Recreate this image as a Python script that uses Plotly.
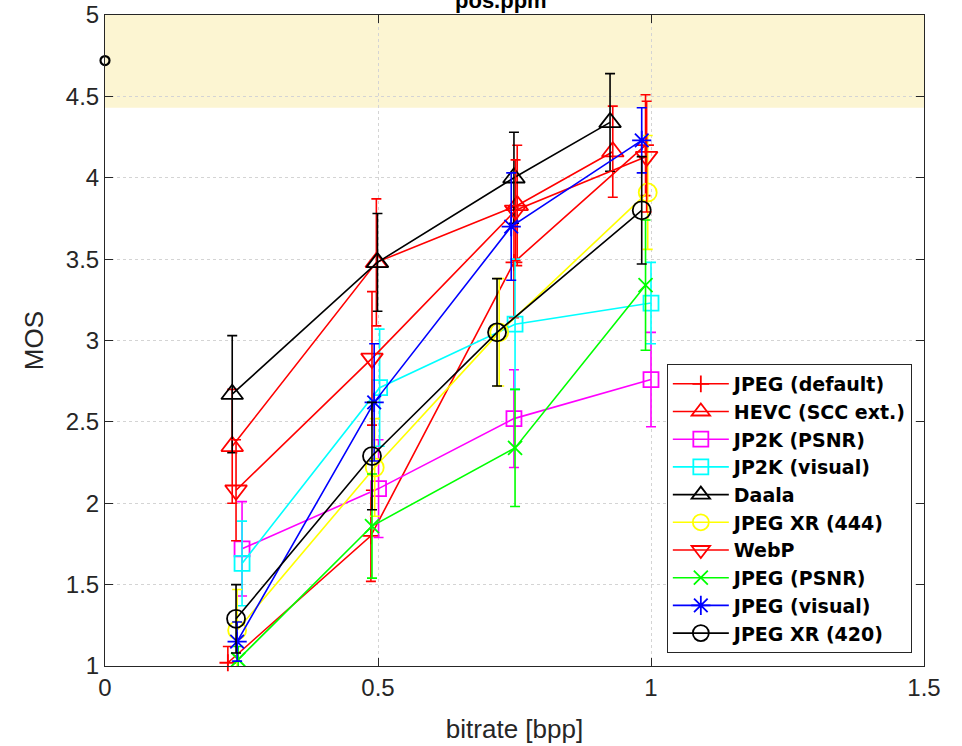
import plotly.graph_objects as go

names = ["JPEG (default)", "HEVC (SCC ext.)", "JP2K (PSNR)", "JP2K (visual)", "Daala",
         "JPEG XR (444)", "WebP", "JPEG (PSNR)", "JPEG (visual)", "JPEG XR (420)"]

x_jpeg_default = [0.225, 0.487, 0.749, 0.990]
y_jpeg_default = [1.02, 1.80, 3.48, 4.20]
e_jpeg_default = [0.10, 0.28, 0.34, 0.31]

x_hevc = [0.233, 0.497, 0.755, 0.930]
y_hevc = [2.35, 3.48, 3.83, 4.16]
e_hevc = [0.35, 0.39, 0.37, 0.28]

x_jp2k_psnr = [0.251, 0.501, 0.749, 1.000]
y_jp2k_psnr = [1.72, 2.09, 2.52, 2.76]
e_jp2k_psnr = [0.29, 0.30, 0.30, 0.29]

x_jp2k_visual = [0.251, 0.503, 0.751, 1.000]
y_jp2k_visual = [1.63, 2.71, 3.10, 3.23]
e_jp2k_visual = [0.26, 0.36, 0.40, 0.25]

x_daala = [0.233, 0.499, 0.749, 0.925]
y_daala = [2.67, 3.48, 4.00, 4.34]
e_daala = [0.36, 0.30, 0.28, 0.30]

x_xr444 = [0.242, 0.494, 0.722, 0.994]
y_xr444 = [1.22, 2.22, 3.05, 3.91]
e_xr444 = [0.25, 0.30, 0.33, 0.35]

x_webp = [0.240, 0.489, 0.752, 0.992]
y_webp = [2.08, 2.89, 3.80, 4.13]
e_webp = [0.31, 0.41, 0.31, 0.34]

x_jpeg_psnr = [0.244, 0.489, 0.751, 0.990]
y_jpeg_psnr = [1.04, 1.86, 2.34, 3.34]
e_jpeg_psnr = [0.08, 0.32, 0.36, 0.40]

x_jpeg_visual = [0.242, 0.493, 0.744, 0.983]
y_jpeg_visual = [1.15, 2.62, 3.70, 4.23]
e_jpeg_visual = [0.12, 0.36, 0.33, 0.20]

x_xr420 = [0.240, 0.489, 0.718, 0.983]
y_xr420 = [1.29, 2.29, 3.05, 3.80]
e_xr420 = [0.21, 0.33, 0.33, 0.33]

ref_x = [0.0]
ref_y = [4.72]
band_range = [4.43, 5.0]

xs = [x_jpeg_default, x_hevc, x_jp2k_psnr, x_jp2k_visual, x_daala, x_xr444, x_webp,
      x_jpeg_psnr, x_jpeg_visual, x_xr420]
ys = [y_jpeg_default, y_hevc, y_jp2k_psnr, y_jp2k_visual, y_daala, y_xr444, y_webp,
      y_jpeg_psnr, y_jpeg_visual, y_xr420]
es = [e_jpeg_default, e_hevc, e_jp2k_psnr, e_jp2k_visual, e_daala, e_xr444, e_webp,
      e_jpeg_psnr, e_jpeg_visual, e_xr420]

colors = ["#FF0000", "#FF0000", "#FF00FF", "#00FFFF", "#000000",
          "#FFFF00", "#FF0000", "#00FF00", "#0000FF", "#000000"]
symbols = ["cross-thin", "triangle-up-open", "square-open", "square-open", "triangle-up-open",
           "circle-open", "triangle-down-open", "x-thin", "asterisk", "circle-open"]
sizes = [12, 19, 15, 15, 19, 18, 19, 14, 16, 18]

FONT = "Liberation Sans, Arial, Helvetica"

fig = go.Figure()
for n, x, y, e, c, s, sz in zip(names, xs, ys, es, colors, symbols, sizes):
    fig.add_trace(go.Scatter(
        x=x, y=y, name=n, mode="lines+markers",
        line=dict(color=c, width=1.6),
        marker=dict(symbol=s, size=sz, color=c, line=dict(color=c, width=1.8)),
        error_y=dict(type="data", array=e, symmetric=True, color=c, thickness=1.6, width=5),
        cliponaxis=False,
    ))

fig.add_trace(go.Scatter(
    x=ref_x, y=ref_y, mode="markers", showlegend=False,
    marker=dict(symbol="circle-open", size=9, color="black", line=dict(color="black", width=2.2)),
    cliponaxis=False,
))

fig.add_shape(type="rect", xref="paper", yref="y", x0=0, x1=1,
              y0=band_range[0], y1=band_range[1],
              fillcolor="#FCF5D2", line=dict(width=0), layer="below")

fig.add_annotation(text="<b>pos.ppm</b>", xref="paper", yref="paper", x=0.484, y=1,
                   xanchor="center", yanchor="bottom", yshift=0, showarrow=False,
                   font=dict(family=FONT, size=22, color="black"))

axis_common = dict(
    showline=True, linecolor="#262626", linewidth=1, mirror="ticks",
    ticks="inside", ticklen=8, tickcolor="#262626",
    showgrid=True, gridcolor="#D4D4D4", griddash="dot", gridwidth=1,
    zeroline=False,
    tickfont=dict(family=FONT, size=24, color="#262626"),
)

fig.update_layout(
    width=962, height=746,
    margin=dict(l=105, r=38, t=15, b=80, autoexpand=False),
    paper_bgcolor="white", plot_bgcolor="white",
    xaxis=dict(range=[0, 1.5], tickvals=[0, 0.5, 1, 1.5], ticktext=["0", "0.5", "1", "1.5"],
               title=dict(text="bitrate [bpp]", font=dict(family=FONT, size=26, color="#262626"), standoff=20),
               **axis_common),
    yaxis=dict(range=[1, 5], tickvals=[1, 1.5, 2, 2.5, 3, 3.5, 4, 4.5, 5],
               ticktext=["1", "1.5", "2", "2.5", "3", "3.5", "4", "4.5", "5"],
               title=dict(text="MOS", font=dict(family=FONT, size=26, color="#262626"), standoff=14),
               **axis_common),
    legend=dict(x=0.686, y=0.464, xanchor="left", yanchor="top",
                bgcolor="white", bordercolor="#262626", borderwidth=1,
                font=dict(family="DejaVu Sans, Liberation Sans", size=19, color="black", weight="bold"),
                itemwidth=56, tracegroupgap=0),
    showlegend=True,
)

fig.write_html("out.html")
